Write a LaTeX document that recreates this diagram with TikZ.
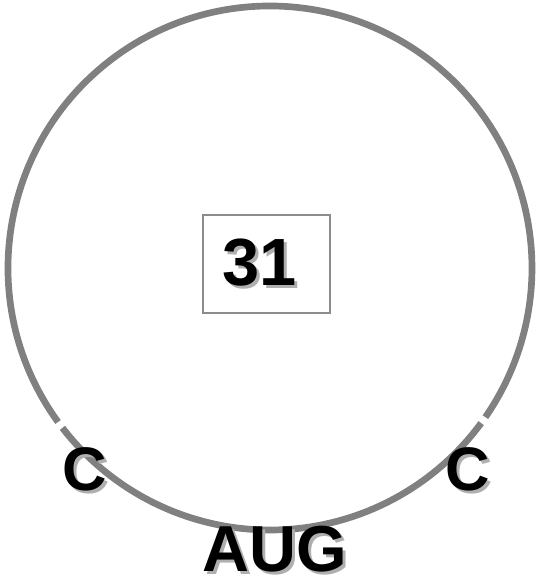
\documentclass[tikz,border=0pt]{standalone}
\usepackage{fontspec}
\setmainfont{Liberation Sans}
\usepackage{xcolor}
\definecolor{ringgrey}{RGB}{128,128,128}
\definecolor{boxgrey}{RGB}{140,140,140}
\definecolor{shadegrey}{RGB}{175,175,175}
\usetikzlibrary{positioning}
% text with a soft drop shadow
\newcommand{\shtext}[1]{\makebox[0pt][l]{\hspace{1.8pt}\raisebox{-1.8pt}{\color{shadegrey}#1}}#1}
\tikzset{
  ring/.style={draw=ringgrey, line width=3.8pt},
  numbox/.style={draw=boxgrey, line width=0.9pt, minimum width=2.54cm, minimum height=1.96cm, inner sep=0pt, font=\fontsize{38}{40}\selectfont\bfseries},
  base/.style={inner sep=0pt, font=\fontsize{35}{38}\selectfont\bfseries},
  codon/.style={inner sep=0pt, font=\fontsize{37}{40}\selectfont\bfseries}
}
\begin{document}
\begin{tikzpicture}[x=0.02cm, y=-0.02cm]
  \useasboundingbox (0,0) rectangle (539,578);
  \coordinate (ctr) at (270,268);
  % ring, broken at two points
  \draw[ring] (ctr) ++(36.3:262) arc[start angle=36.3, end angle=142.4, radius=262];
  \draw[ring] (ctr) ++(144:262) arc[start angle=144, end angle=394.7, radius=262];
  \node[numbox] (num) at (266.5,264) {\makebox[2.54cm][l]{\hspace{0.38cm}\shtext{31}}};
  \node[base] (cl) at (85,471) {\shtext{C}};
  \node[base] (cr) at (468,471) {\shtext{C}};
  \node[codon] (start) at (275,551) {\shtext{AUG}};
\end{tikzpicture}
\end{document}
